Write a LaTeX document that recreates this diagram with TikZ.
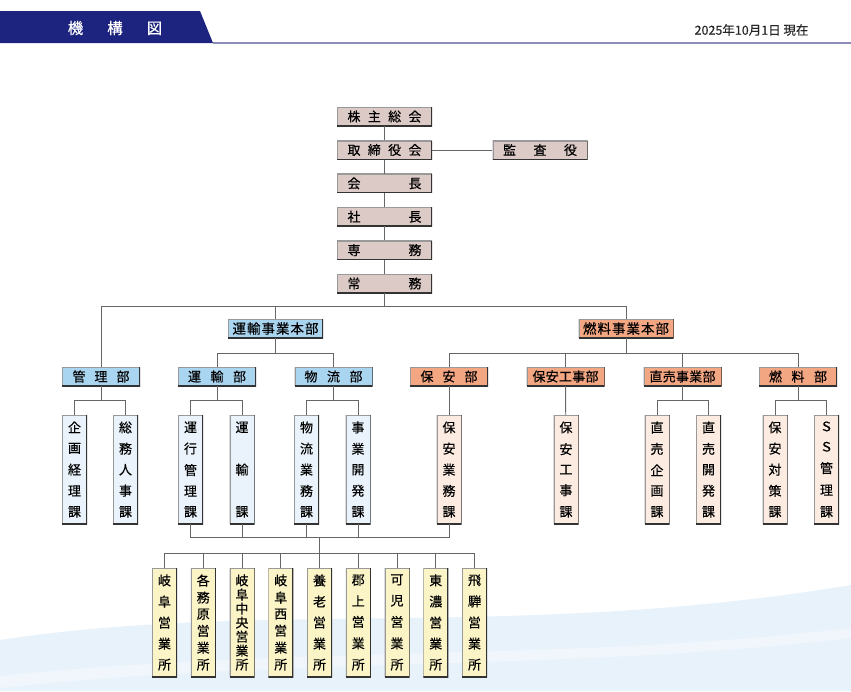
\documentclass[tikz,border=0pt]{standalone}
\usepackage{fontspec}
\setmainfont{Noto Sans CJK JP}[UprightFeatures={FakeBold=0.35}]
\usepackage{xcolor}
\usepackage{tikz}
\usetikzlibrary{positioning,calc}
\definecolor{navy}{RGB}{28,36,128}
\definecolor{execfill}{RGB}{220,202,198}
\definecolor{bluefill}{RGB}{170,213,240}
\definecolor{orangefill}{RGB}{243,166,130}
\definecolor{paleblue}{RGB}{234,243,251}
\definecolor{palepeach}{RGB}{251,235,225}
\definecolor{paleyellow}{RGB}{251,244,198}
\definecolor{wavefill}{RGB}{232,242,250}
\definecolor{rulecol}{RGB}{140,140,185}
\newcommand\sprd[2]{\makebox[#1][s]{#2}}
\makeatletter
\newcommand\tate[2][95pt]{\vbox to #1{\offinterlineskip\let\tate@sep\relax
  \@tfor\tate@c:=#2\do{\tate@sep\hbox to 14pt{\hss\tate@c\hss}\let\tate@sep\vfill}}}
\makeatother
\tikzset{
    boxedge/.style={inner sep=0pt, path picture={
        \draw[black!40, line width=2pt] (path picture bounding box.south west) -- (path picture bounding box.north west) -- (path picture bounding box.north east);
        \draw[black!80, line width=2pt] (path picture bounding box.north east) -- (path picture bounding box.south east) -- (path picture bounding box.south west);}},
    exec/.style={boxedge, rectangle, fill=execfill, minimum width=95pt, minimum height=19pt, font=\fontsize{13}{14}\selectfont},
    unhqbox/.style={boxedge, rectangle, fill=bluefill, minimum width=95pt, minimum height=19pt, font=\fontsize{13.5}{14}\selectfont},
    nenhqbox/.style={boxedge, rectangle, fill=orangefill, minimum width=95pt, minimum height=19pt, font=\fontsize{13.5}{14}\selectfont},
    bluedept/.style={boxedge, rectangle, fill=bluefill, minimum width=78pt, minimum height=19pt, font=\fontsize{13}{14}\selectfont},
    orangedept/.style={boxedge, rectangle, fill=orangefill, minimum width=78pt, minimum height=19pt, font=\fontsize{13}{14}\selectfont},
    bluesect/.style={boxedge, rectangle, fill=paleblue, minimum width=25pt, minimum height=109pt, font=\fontsize{13}{13}\selectfont},
    orangesect/.style={boxedge, rectangle, fill=palepeach, minimum width=25pt, minimum height=109pt, font=\fontsize{13}{13}\selectfont},
    office/.style={boxedge, rectangle, fill=paleyellow, minimum width=25pt, minimum height=109pt, font=\fontsize{13}{13}\selectfont},
    wire/.style={draw=black!60, line width=0.9pt},
    title/.style={text=white, font=\fontsize{15.5}{16}\selectfont},
    datetext/.style={text=black!85, font=\fontsize{12.5}{13}\selectfont}
}
\begin{document}
\begin{tikzpicture}[x=1pt, y=-1pt]
    \useasboundingbox (0,0) rectangle (851,691);
    % background
    \fill[wavefill] (0,640) .. controls (260,600) and (520,640) .. (851,585) -- (851,691) -- (0,691) -- cycle;
    \fill[white, opacity=0.35] (0,676) .. controls (300,645) and (560,662) .. (851,628) -- (851,638) .. controls (560,672) and (300,656) .. (0,688) -- cycle;

    % header
    \fill[navy] (0,11) -- (200,11) -- (213,43) -- (0,43) -- cycle;
    \draw[rulecol, line width=1.2pt] (213,43) -- (851,43);
    \node[title] (ttl) at (115,28) {機\hspace{24pt}構\hspace{24pt}図};
    \node[datetext, anchor=east] (date) at (812,30) {2025年10月1日 現在};

    % executives
    \node[exec] (kabu) at (384.5,116.5) {\sprd{74pt}{株\hfill 主\hfill 総\hfill 会}};
    \node[exec] (tori) at (384.5,150) {\sprd{74pt}{取\hfill 締\hfill 役\hfill 会}};
    \node[exec] (kaicho) at (384.5,183.3) {\sprd{74pt}{会\hfill 長}};
    \node[exec] (shacho) at (384.5,216.7) {\sprd{74pt}{社\hfill 長}};
    \node[exec] (senmu) at (384.5,250.1) {\sprd{74pt}{専\hfill 務}};
    \node[exec] (jomu) at (384.5,283.5) {\sprd{74pt}{常\hfill 務}};
    \node[exec] (kansa) at (540,150) {\sprd{74pt}{監\hfill 査\hfill 役}};

    \draw[wire] (kabu) -- (tori);
    \draw[wire] (tori) -- (kaicho);
    \draw[wire] (kaicho) -- (shacho);
    \draw[wire] (shacho) -- (senmu);
    \draw[wire] (senmu) -- (jomu);
    \draw[wire] (tori) -- (kansa);

    % bus levels
    \coordinate (b0) at (0,306);
    \coordinate (b1) at (0,353.5);
    \coordinate (b2) at (0,400.5);
    \coordinate (b3) at (0,537);
    \coordinate (b4) at (0,553);

    % head offices
    \node[unhqbox] (unhq) at (275.5,328.5) {\sprd{86pt}{運\hfill 輸\hfill 事\hfill 業\hfill 本\hfill 部}};
    \node[nenhqbox] (nenhq) at (626,328.5) {\sprd{86pt}{燃\hfill 料\hfill 事\hfill 業\hfill 本\hfill 部}};

    % departments
    \node[bluedept] (kanri) at (101,376.5) {\sprd{57pt}{管\hfill 理\hfill 部}};
    \node[bluedept] (unyu) at (217,376.5) {\sprd{58pt}{運\hfill 輸\hfill 部}};
    \node[bluedept] (butsu) at (333.5,376.5) {\sprd{58pt}{物\hfill 流\hfill 部}};
    \node[orangedept] (hoan) at (449,376.5) {\sprd{57pt}{保\hfill 安\hfill 部}};
    \node[orangedept] (koji) at (565.5,376.5) {\sprd{66pt}{保\hfill 安\hfill 工\hfill 事\hfill 部}};
    \node[orangedept] (chokubai) at (682.5,376.5) {\sprd{66pt}{直\hfill 売\hfill 事\hfill 業\hfill 部}};
    \node[orangedept] (nenryo) at (798,376.5) {\sprd{58pt}{燃\hfill 料\hfill 部}};

    \draw[wire] (jomu) -- (jomu |- b0);
    \draw[wire] (kanri) -- (kanri |- b0) -| (nenhq);
    \draw[wire] (unhq) -- (unhq |- b0);
    \draw[wire] (unyu) -- (unyu |- b1) -| (butsu);
    \draw[wire] (unhq) -- (unhq |- b1);
    \draw[wire] (hoan) -- (hoan |- b1) -| (nenryo);
    \draw[wire] (koji) -- (koji |- b1);
    \draw[wire] (chokubai) -- (chokubai |- b1);
    \draw[wire] (nenhq) -- (nenhq |- b1);

    % sections
    \node[bluesect] (kikaku) at (74.5,469.5) {\tate{企画経理課}};
    \node[bluesect] (somu) at (125.5,469.5) {\tate{総務人事課}};
    \node[bluesect] (unko) at (190.5,469.5) {\tate{運行管理課}};
    \node[bluesect] (unyuka) at (242,469.5) {\tate{運輸課}};
    \node[bluesect] (butsugyo) at (306.5,469.5) {\tate{物流業務課}};
    \node[bluesect] (jigyo) at (358,469.5) {\tate{事業開発課}};
    \node[orangesect] (hoangyo) at (449,469.5) {\tate{保安業務課}};
    \node[orangesect] (kojika) at (566,469.5) {\tate{保安工事課}};
    \node[orangesect] (chokikaku) at (657,469.5) {\tate{直売企画課}};
    \node[orangesect] (chokaihatsu) at (708.5,469.5) {\tate{直売開発課}};
    \node[orangesect] (taisaku) at (775,469.5) {\tate{保安対策課}};
    \node[orangesect] (sskanri) at (826.5,469.5) {\tate{ＳＳ管理課}};

    \draw[wire] (kikaku) -- (kikaku |- b2) -| (somu);
    \draw[wire] (kanri) -- (kanri |- b2);
    \draw[wire] (unko) -- (unko |- b2) -| (unyuka);
    \draw[wire] (unyu) -- (unyu |- b2);
    \draw[wire] (butsugyo) -- (butsugyo |- b2) -| (jigyo);
    \draw[wire] (butsu) -- (butsu |- b2);
    \draw[wire] (hoan) -- (hoangyo);
    \draw[wire] (koji) -- (kojika);
    \draw[wire] (chokikaku) -- (chokikaku |- b2) -| (chokaihatsu);
    \draw[wire] (chokubai) -- (chokubai |- b2);
    \draw[wire] (taisaku) -- (taisaku |- b2) -| (sskanri);
    \draw[wire] (nenryo) -- (nenryo |- b2);

    % sales offices
    \foreach \nm/\txt [count=\i from 0] in {gifu/岐阜営業所, kakami/各務原営業所, gchuo/岐阜中央営業所, gnishi/岐阜西営業所, yoro/養老営業所, gujo/郡上営業所, kani/可児営業所, tono/東濃営業所, hida/飛騨営業所} {
        \node[office] (\nm) at (164.5+38.75*\i,622.5) {\expandafter\tate\expandafter{\txt}};
        \draw[wire] (\nm) -- (\nm |- b4);
    }
    \draw[wire] (gifu |- b4) -- (hida |- b4);
    \draw[wire] (unko) -- (unko |- b3) -| (hoangyo);
    \draw[wire] (unyuka) -- (unyuka |- b3);
    \draw[wire] (butsugyo) -- (butsugyo |- b3);
    \draw[wire] (jigyo) -- (jigyo |- b3);
    \draw[wire] (yoro |- b3) -- (yoro |- b4);
\end{tikzpicture}
\end{document}
